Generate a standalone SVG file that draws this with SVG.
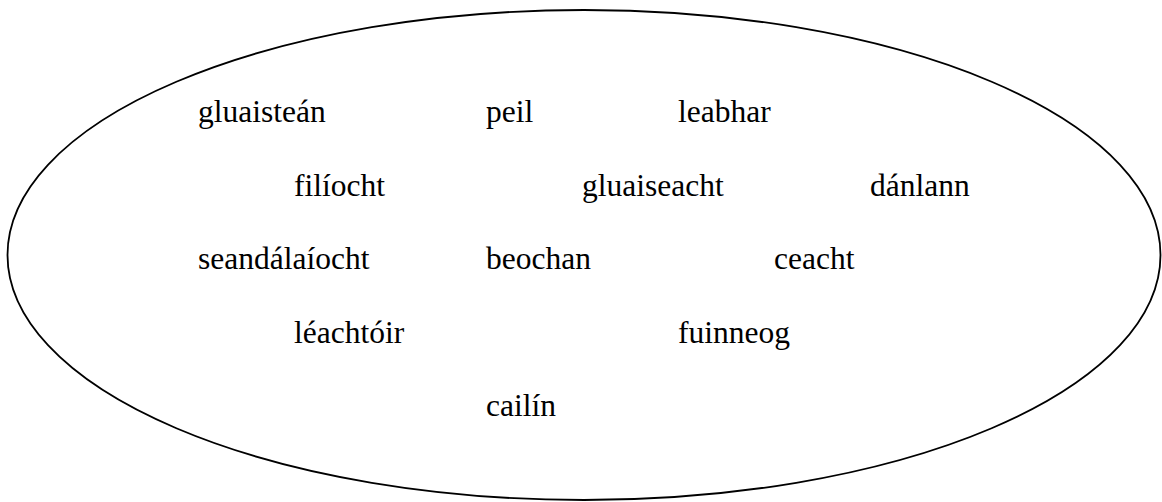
<svg xmlns="http://www.w3.org/2000/svg" width="1162" height="502" viewBox="0 0 1162 502">
<style>
.w{font-family:"Liberation Serif","Times New Roman",serif;font-size:31.5px;fill:#000}
.e{fill:none;stroke:#000;stroke-width:1.8}
</style>
<rect width="1162" height="502" fill="#fff"/>
<g id="boundary"><ellipse class="e" cx="584" cy="255" rx="576.5" ry="245"/></g>
<g id="words">
<g id="n-gluaistean"><text class="w" x="198" y="122">gluaisteán</text></g>
<g id="n-peil"><text class="w" x="486" y="122">peil</text></g>
<g id="n-leabhar"><text class="w" x="678" y="122">leabhar</text></g>
<g id="n-filiocht"><text class="w" x="294" y="196">filíocht</text></g>
<g id="n-gluaiseacht"><text class="w" x="582" y="196">gluaiseacht</text></g>
<g id="n-danlann"><text class="w" x="870" y="196">dánlann</text></g>
<g id="n-seandalaiocht"><text class="w" x="198" y="269">seandálaíocht</text></g>
<g id="n-beochan"><text class="w" x="486" y="269">beochan</text></g>
<g id="n-ceacht"><text class="w" x="774" y="269">ceacht</text></g>
<g id="n-leachtoir"><text class="w" x="294" y="343">léachtóir</text></g>
<g id="n-fuinneog"><text class="w" x="678" y="343">fuinneog</text></g>
<g id="n-cailin"><text class="w" x="486" y="416">cailín</text></g>
</g>
<g id="connectors"></g>
</svg>
